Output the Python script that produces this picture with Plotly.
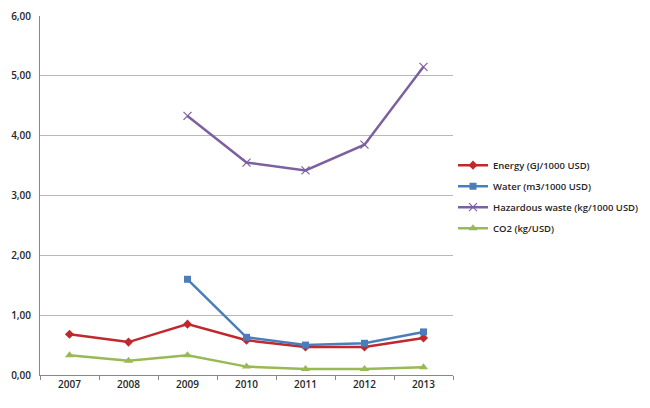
import plotly.graph_objects as go

years = ["2007", "2008", "2009", "2010", "2011", "2012", "2013"]
energy = [0.68, 0.55, 0.85, 0.58, 0.47, 0.47, 0.62]
water = [None, None, 1.60, 0.63, 0.50, 0.53, 0.72]
hazardous = [None, None, 4.33, 3.55, 3.42, 3.85, 5.15]
co2 = [0.33, 0.24, 0.33, 0.14, 0.10, 0.10, 0.13]
y_ticks = [0, 1, 2, 3, 4, 5, 6]

fig = go.Figure()
fig.add_trace(go.Scatter(x=years, y=energy, name="Energy (GJ/1000 USD)", mode="lines+markers",
                         legendgroup="e",
                         line=dict(color="#C0282D", width=2.5),
                         marker=dict(symbol="diamond", size=7, color="#C0282D")))
fig.add_trace(go.Scatter(x=years, y=water, name="Water (m3/1000 USD)", mode="lines+markers",
                         legendgroup="w",
                         line=dict(color="#4A7EBB", width=2.5),
                         marker=dict(symbol="square", size=7, color="#4A7EBB")))
fig.add_trace(go.Scatter(x=years, y=hazardous, name="Hazardous waste (kg/1000 USD)", mode="lines+markers",
                         legendgroup="h",
                         line=dict(color="#7D60A0", width=2.5),
                         marker=dict(symbol="x-thin", size=8, color="#7D60A0",
                                     line=dict(color="#7D60A0", width=1.2))))
fig.add_trace(go.Scatter(x=years, y=co2, name="CO2 (kg/USD)", mode="lines+markers",
                         legendgroup="c",
                         line=dict(color="#98B954", width=2.5),
                         marker=dict(symbol="triangle-up", size=8, color="#98B954")))

fig.update_layout(
    width=642, height=400,
    margin=dict(l=32, r=197, t=8, b=33, autoexpand=False),
    paper_bgcolor="white", plot_bgcolor="white",
    separators=",.",
    font=dict(family="Open Sans, Lato, sans-serif", size=10, color="#262626"),
    showlegend=True,
    legend=dict(x=1.0, y=0.625, xanchor="left", yanchor="top", itemwidth=30,
                tracegroupgap=2,
                font=dict(size=9.5, color="#262626", weight=600),
                bgcolor="rgba(0,0,0,0)"),
    xaxis=dict(type="category", tickson="boundaries", ticks="outside", ticklen=4,
               tickcolor="#888888", showline=True, linecolor="#888888", linewidth=1,
               showgrid=False, range=[-0.5, 6.5], automargin=False,
               tickfont=dict(size=10, color="#262626", weight=600)),
    yaxis=dict(range=[0, 6], tickvals=y_ticks, tickformat=".2f", showgrid=True,
               gridcolor="#B8B8B8", gridwidth=1, showline=True, linecolor="#888888",
               linewidth=1, zeroline=False, ticks="", automargin=False, ticklabelstandoff=6,
               tickfont=dict(size=10, color="#262626", weight=600)),
)

fig.write_html("out.html")
